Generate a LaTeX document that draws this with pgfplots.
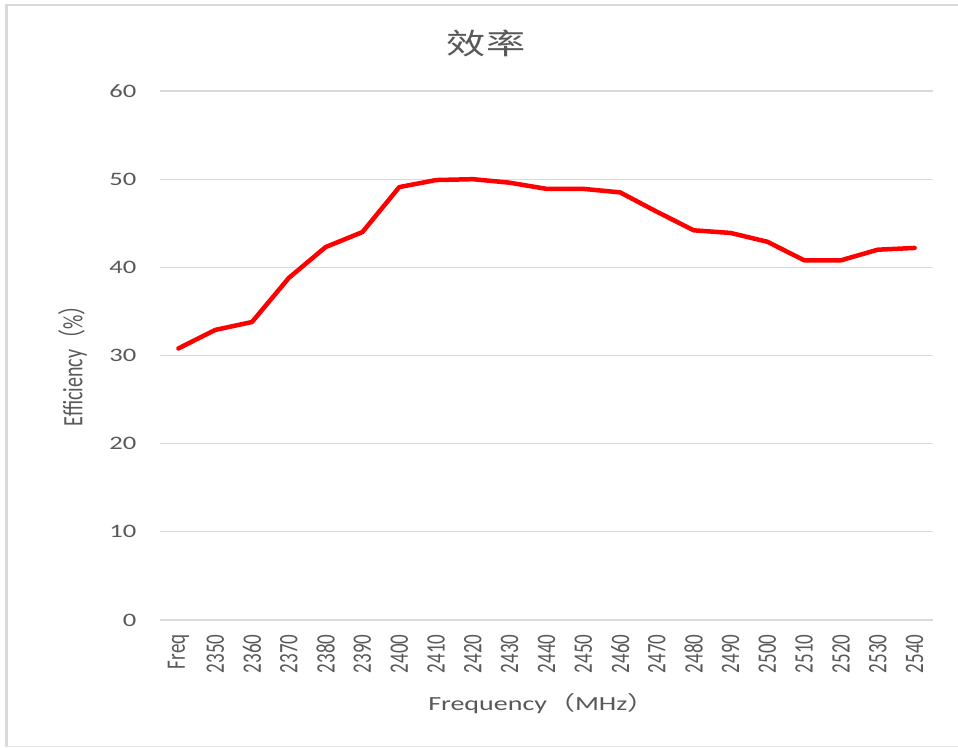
\documentclass[border=0pt]{standalone}
\usepackage{pgfplots}
\pgfplotsset{compat=1.18}
\usepackage{fontspec}
\setmainfont{Carlito}
\newfontfamily\cjk{Noto Sans CJK SC}
\definecolor{txt}{HTML}{595959}
\definecolor{gridc}{HTML}{D9D9D9}
\definecolor{framec}{HTML}{D9D9D9}
\begin{document}
\begin{tikzpicture}
\useasboundingbox (0pt,0pt) rectangle (958pt,747pt);
\fill[white] (0pt,0pt) rectangle (958pt,747pt);
\draw[framec, line width=2.5pt] (6.5pt,0pt) -- (6.5pt,742pt) -- (958pt,742pt);
\draw[gridc!60, line width=0.8pt] (6.5pt,0.6pt) -- (958pt,0.6pt);
\node[txt, xscale=1.35, font={\cjk\fontsize{29}{32}\selectfont}] at (486pt,704pt) {效率};
\begin{axis}[
  at={(160pt,127pt)}, anchor=south west,
  scale only axis, width=773pt, height=529pt,
  xmin=-0.5, xmax=20.5, ymin=0, ymax=60,
  ytick={0,10,20,30,40,50,60},
  xtick={0,...,20},
  xticklabels={Freq,2350,2360,2370,2380,2390,2400,2410,2420,2430,2440,2450,2460,2470,2480,2490,2500,2510,2520,2530,2540},
  axis line style={draw=none},
  major tick length=0pt,
  ymajorgrids, grid style={gridc, line width=1.2pt},
  /pgf/number format/assume math mode=true,
  yticklabel style={txt, font=\fontsize{19}{22}\selectfont, xscale=1.4, anchor=east, xshift=-13.4pt},
  xticklabel style={txt, font=\fontsize{19}{22}\selectfont, rotate=90, yscale=1.4, anchor=east, xshift=-11pt},
  xlabel={Frequency{\cjk（}MHz{\cjk）}},
  ylabel={Efficiency{\cjk（}\%{\cjk）}},
  xlabel style={txt, font=\fontsize{20}{22}\selectfont, xscale=1.4, at={(axis description cs:0.494,-0.157)}, anchor=center},
  ylabel style={txt, font=\fontsize{20}{22}\selectfont, yscale=1.4, at={(axis description cs:-0.113,0.49)}, anchor=center},
  clip=false,
]
\draw[gridc, line width=1.2pt] (axis cs:-0.5,0) -- (axis cs:20.5,0);
\addplot[red, line width=4.5pt, line join=round, line cap=round, mark=none] coordinates {
(0,30.8) (1,32.9) (2,33.8) (3,38.8) (4,42.3) (5,44.0) (6,49.1) (7,49.9) (8,50.0) (9,49.6)
(10,48.9) (11,48.9) (12,48.5) (13,46.3) (14,44.2) (15,43.9) (16,42.9) (17,40.8) (18,40.8) (19,42.0) (20,42.2)
};
\end{axis}
\end{tikzpicture}
\end{document}
